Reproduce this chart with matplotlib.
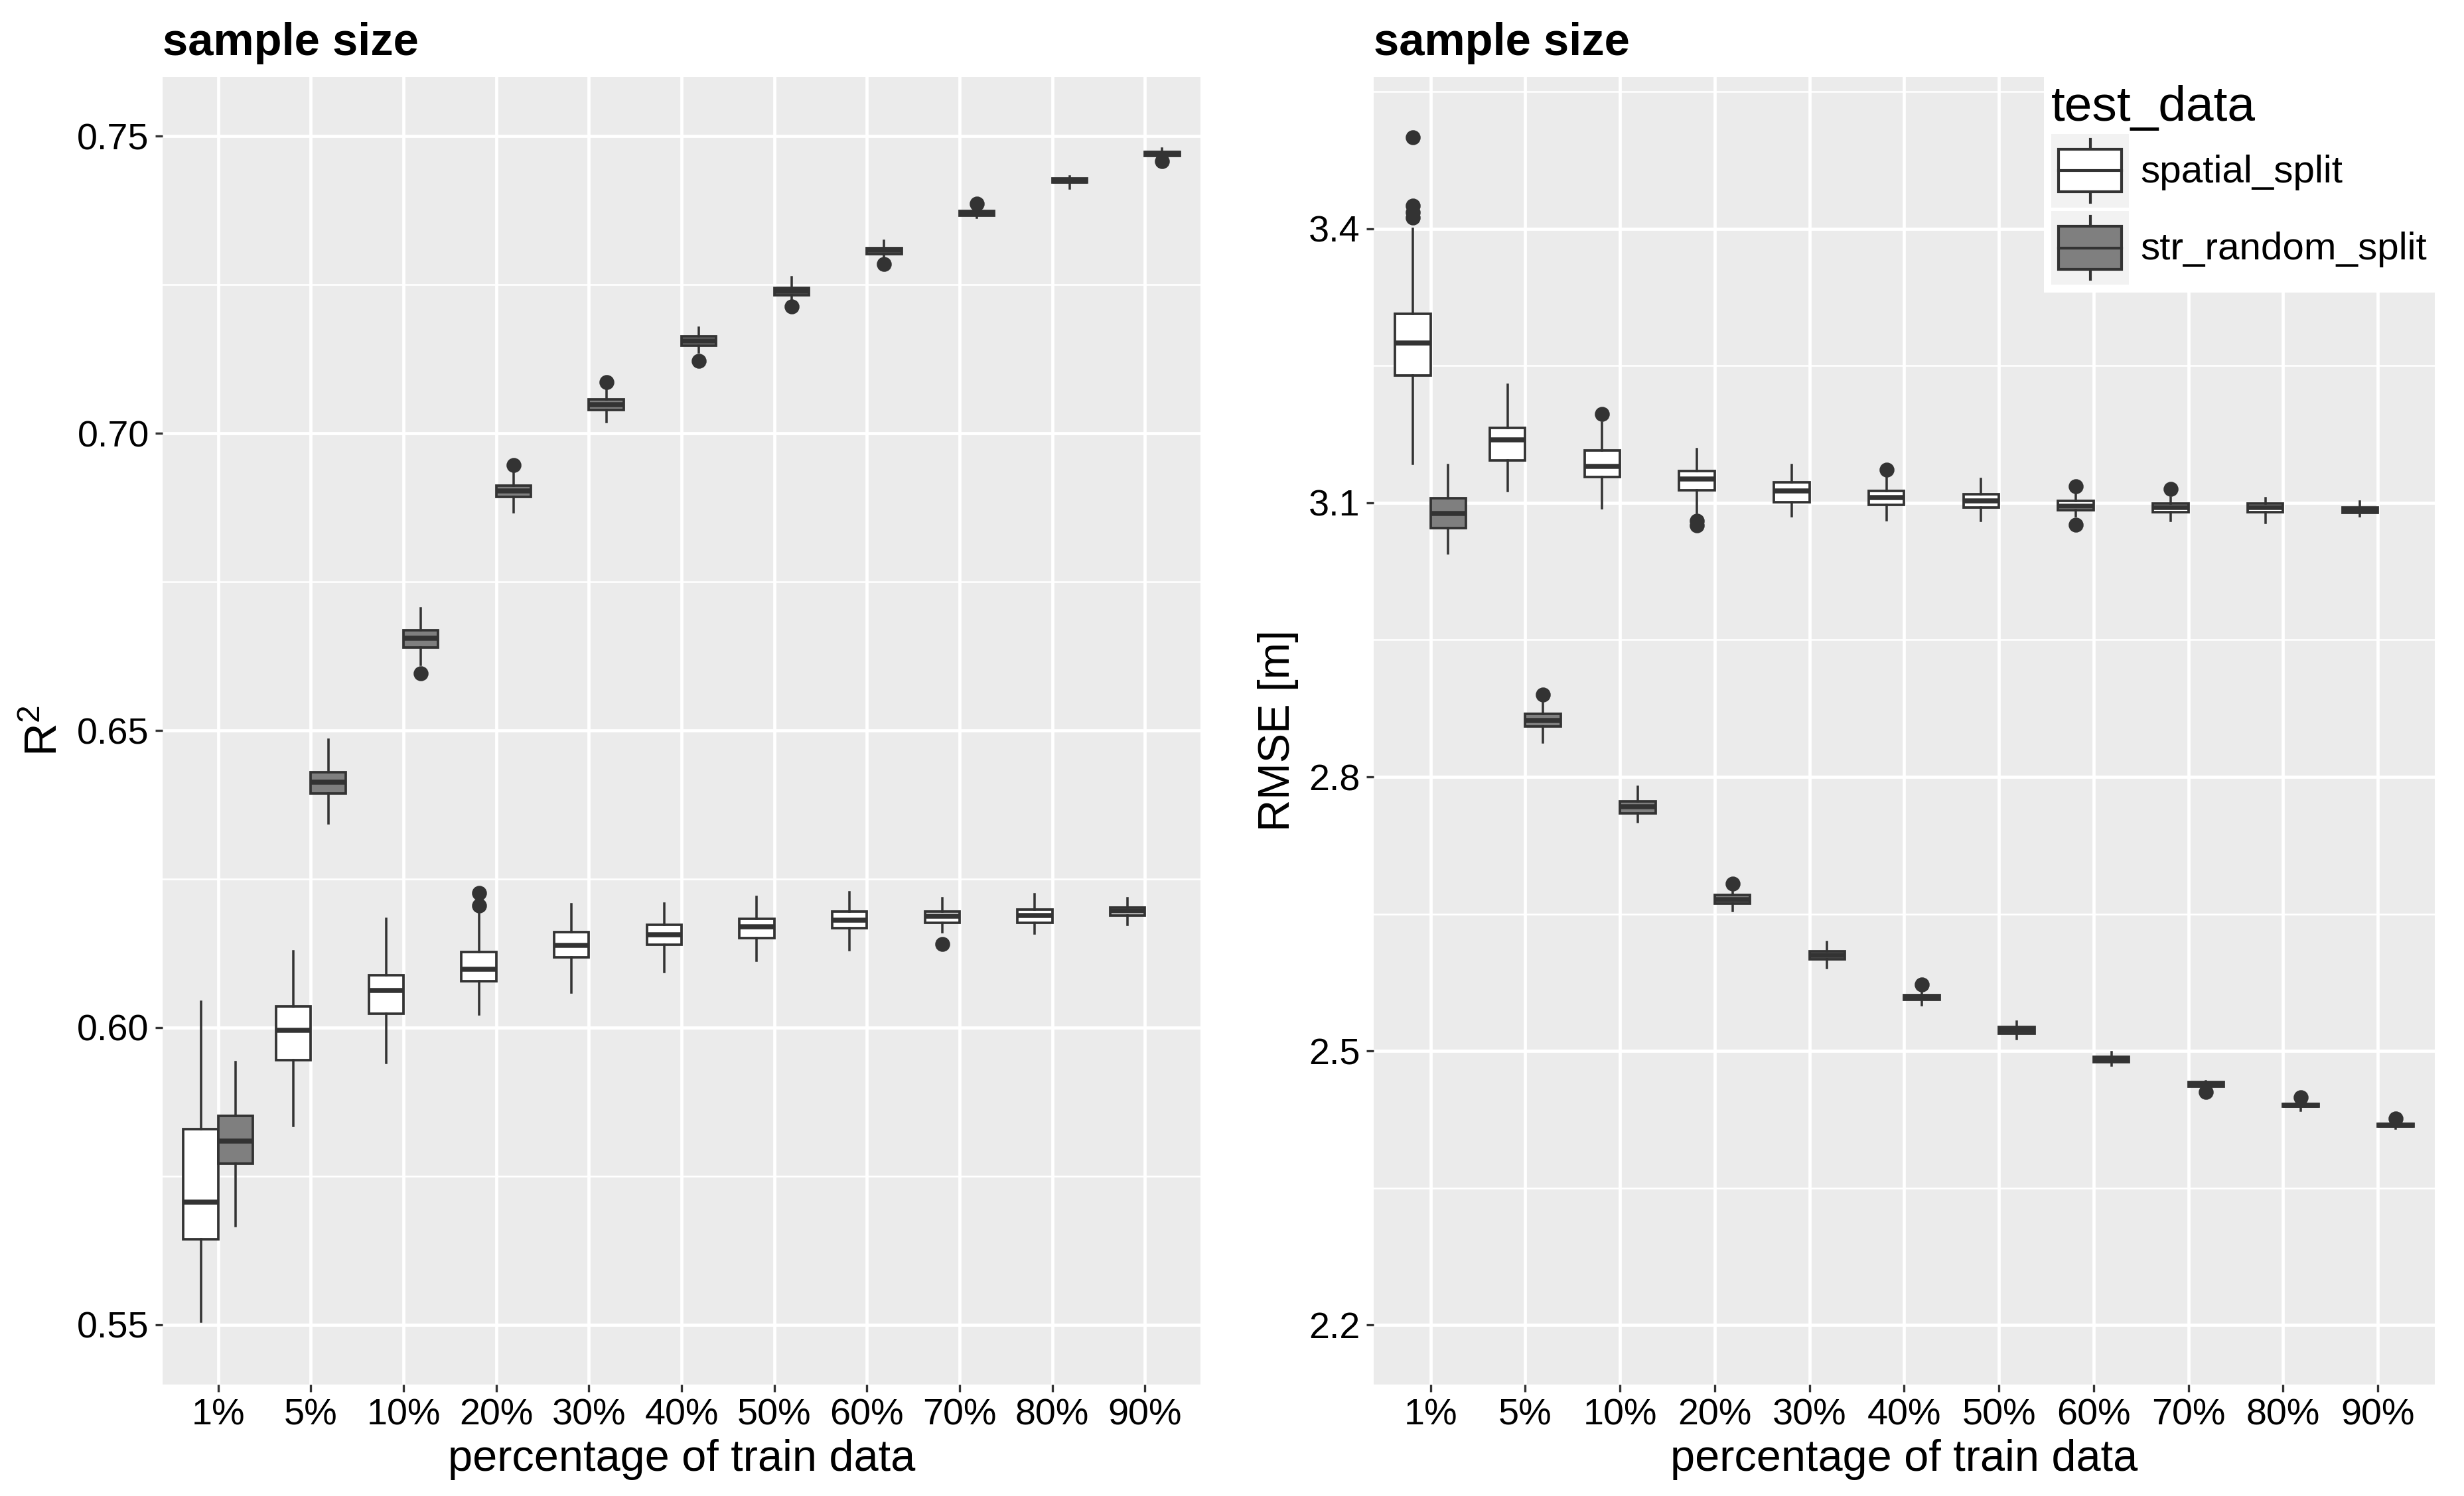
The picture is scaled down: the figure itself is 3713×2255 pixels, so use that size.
import numpy as np
import matplotlib
matplotlib.use("Agg")
import matplotlib.pyplot as plt
from matplotlib.patches import Rectangle, Patch
from matplotlib.lines import Line2D
from matplotlib.legend_handler import HandlerBase
from matplotlib.ticker import FixedLocator

plt.rcParams['font.family'] = ['Liberation Sans', 'DejaVu Sans']
plt.rcParams['mathtext.fontset'] = 'custom'
plt.rcParams['mathtext.rm'] = 'Liberation Sans'
plt.rcParams['mathtext.it'] = 'Liberation Sans:italic'

# ---------------- data ----------------
categories = ['1%', '5%', '10%', '20%', '30%', '40%', '50%', '60%', '70%', '80%', '90%']
groups = ['spatial_split', 'str_random_split']

# R^2, spatial split
r2_sp_whislo = [0.5505, 0.5834, 0.5941, 0.6022, 0.6059, 0.6093, 0.6112, 0.6130, 0.6160, 0.6158, 0.6173]
r2_sp_q1     = [0.5643, 0.5945, 0.6023, 0.6078, 0.6118, 0.6139, 0.6151, 0.6167, 0.6176, 0.6176, 0.6188]
r2_sp_med    = [0.5706, 0.5995, 0.6062, 0.6098, 0.6138, 0.6156, 0.6169, 0.6181, 0.6187, 0.6188, 0.6196]
r2_sp_q3     = [0.5829, 0.6036, 0.6088, 0.6127, 0.6161, 0.6173, 0.6183, 0.6195, 0.6195, 0.6199, 0.6202]
r2_sp_whishi = [0.6043, 0.6128, 0.6183, 0.6197, 0.6207, 0.6209, 0.6220, 0.6227, 0.6217, 0.6224, 0.6217]
r2_sp_out    = [[], [], [], [0.6205, 0.6226], [], [], [], [], [0.6141], [], []]

# R^2, stratified random split
r2_rs_whislo = [0.5666, 0.6344, 0.6611, 0.6867, 0.7019, 0.7137, 0.7224, 0.7297, 0.7363, 0.7412, 0.7463]
r2_rs_q1     = [0.5771, 0.6394, 0.6640, 0.6893, 0.7039, 0.7148, 0.7232, 0.7302, 0.7367, 0.7422, 0.7467]
r2_rs_med    = [0.5809, 0.6413, 0.6655, 0.6903, 0.7048, 0.7155, 0.7239, 0.7308, 0.7370, 0.7425, 0.7471]
r2_rs_q3     = [0.5851, 0.6430, 0.6669, 0.6912, 0.7057, 0.7163, 0.7245, 0.7312, 0.7374, 0.7429, 0.7474]
r2_rs_whishi = [0.5942, 0.6484, 0.6706, 0.6936, 0.7075, 0.7178, 0.7263, 0.7324, 0.7381, 0.7432, 0.7479]
r2_rs_out    = [[], [], [0.6596], [0.6947], [0.7086], [0.7122], [0.7214], [0.7285], [0.7387], [], [0.7458]]

# RMSE, spatial split
rm_sp_whislo = [3.143, 3.113, 3.094, 3.089, 3.085, 3.081, 3.080, 3.085, 3.080, 3.078, 3.085]
rm_sp_q1     = [3.239, 3.146, 3.128, 3.114, 3.1005, 3.098, 3.095, 3.092, 3.090, 3.090, 3.089]
rm_sp_med    = [3.275, 3.169, 3.140, 3.126, 3.113, 3.106, 3.102, 3.096, 3.095, 3.095, 3.092]
rm_sp_q3     = [3.307, 3.182, 3.157, 3.135, 3.122, 3.113, 3.109, 3.102, 3.099, 3.099, 3.095]
rm_sp_whishi = [3.400, 3.229, 3.188, 3.159, 3.141, 3.130, 3.126, 3.110, 3.106, 3.105, 3.101]
rm_sp_out    = [[3.500, 3.425, 3.418, 3.412], [], [3.197], [3.080, 3.075], [], [3.136], [],
                [3.118, 3.076], [3.115], [], []]

# RMSE, stratified random split
rm_rs_whislo = [3.045, 2.838, 2.751, 2.653, 2.591, 2.550, 2.513, 2.484, 2.459, 2.435, 2.4155]
rm_rs_q1     = [3.072, 2.855, 2.760, 2.661, 2.600, 2.556, 2.519, 2.488, 2.461, 2.439, 2.4177]
rm_rs_med    = [3.088, 2.862, 2.767, 2.666, 2.605, 2.559, 2.5225, 2.4915, 2.4635, 2.4407, 2.419]
rm_rs_q3     = [3.105, 2.869, 2.773, 2.671, 2.609, 2.5615, 2.526, 2.494, 2.466, 2.442, 2.4203]
rm_rs_whishi = [3.141, 2.882, 2.789, 2.675, 2.619, 2.565, 2.532, 2.499, 2.467, 2.445, 2.423]
rm_rs_out    = [[], [2.890], [], [2.683], [], [2.573], [], [], [2.455], [2.449], [2.426]]

r2_ticks = [0.55, 0.60, 0.65, 0.70, 0.75]
r2_minor = [0.575, 0.625, 0.675, 0.725]
rm_ticks = [2.2, 2.5, 2.8, 3.1, 3.4]
rm_minor = [2.35, 2.65, 2.95, 3.25, 3.55]

# ---------------- style ----------------
panel_bg = '#EBEBEB'
dark = '#333333'
fills = {'spatial_split': 'white', 'str_random_split': '#7F7F7F'}
box_w = 0.375


def make_stats(whislo, q1, med, q3, whishi, out):
    stats = []
    for i in range(len(med)):
        stats.append(dict(whislo=whislo[i], q1=q1[i], med=med[i], q3=q3[i],
                          whishi=whishi[i], fliers=out[i]))
    return stats


def draw_boxes(ax, stats, offset, fc):
    pos = np.arange(len(categories)) + offset
    ax.bxp(stats, positions=pos, widths=box_w, patch_artist=True,
           showcaps=False, manage_ticks=False,
           boxprops=dict(facecolor=fc, edgecolor=dark, linewidth=0.9),
           medianprops=dict(color=dark, linewidth=1.8, solid_capstyle='butt'),
           whiskerprops=dict(color=dark, linewidth=0.85),
           flierprops=dict(marker='o', markerfacecolor=dark, markeredgecolor=dark,
                           markersize=4.4, linestyle='none'))


def style_axes(ax, ticks, minor, fmt, ylim):
    ax.set_facecolor(panel_bg)
    for s in ax.spines.values():
        s.set_visible(False)
    ax.set_xlim(-0.6, len(categories) - 0.4)
    ax.set_ylim(*ylim)
    ax.set_xticks(np.arange(len(categories)))
    ax.set_xticklabels(categories)
    ax.set_yticks(ticks)
    ax.set_yticklabels([fmt.format(t) for t in ticks])
    ax.yaxis.set_minor_locator(FixedLocator(minor))
    ax.grid(True, which='major', color='white', linewidth=1.15)
    ax.grid(True, which='minor', axis='y', color='white', linewidth=0.6)
    ax.set_axisbelow(True)
    ax.tick_params(which='major', length=2.6, width=0.8, color=dark,
                   labelsize=13.4, labelcolor='black', pad=2.3)
    ax.tick_params(which='minor', length=0)
    ax.set_xlabel('percentage of train data', fontsize=16, va='baseline')
    ax.xaxis.set_label_coords(0.5, -0.066)


class BoxKeyHandler(HandlerBase):
    # draws a small boxplot glyph on a grey key, like the ggplot legend
    def create_artists(self, legend, orig_handle, xdescent, ydescent,
                       width, height, fontsize, trans):
        x0, y0 = -xdescent, -ydescent
        bg = Rectangle((x0, y0), width, height, facecolor='#F2F2F2',
                       edgecolor='none', transform=trans)
        bw = width * 0.82
        bh = height * 0.58
        bx = x0 + (width - bw) / 2
        by = y0 + (height - bh) / 2
        cx = x0 + width / 2
        box = Rectangle((bx, by), bw, bh, facecolor=orig_handle.get_facecolor(),
                        edgecolor=dark, linewidth=1.0, transform=trans)
        med = Line2D([bx, bx + bw], [y0 + height / 2] * 2, color=dark,
                     linewidth=1.0, transform=trans)
        w1 = Line2D([cx, cx], [y0 + height * 0.07, by], color=dark,
                    linewidth=1.0, transform=trans)
        w2 = Line2D([cx, cx], [by + bh, y0 + height * 0.93], color=dark,
                    linewidth=1.0, transform=trans)
        return [bg, w1, w2, box, med]


fig = plt.figure(figsize=(3713 / 300, 2255 / 300), dpi=300)
ax1 = fig.add_axes([0.0660, 0.0745, 0.4212, 0.8741])
ax2 = fig.add_axes([0.5575, 0.0745, 0.4306, 0.8741])

# left: R^2
draw_boxes(ax1, make_stats(r2_sp_whislo, r2_sp_q1, r2_sp_med, r2_sp_q3, r2_sp_whishi, r2_sp_out),
           -box_w / 2, fills['spatial_split'])
draw_boxes(ax1, make_stats(r2_rs_whislo, r2_rs_q1, r2_rs_med, r2_rs_q3, r2_rs_whishi, r2_rs_out),
           box_w / 2, fills['str_random_split'])
style_axes(ax1, r2_ticks, r2_minor, '{:.2f}', (0.5399, 0.7600))
ax1.set_ylabel(r'$\mathrm{R}^2$', fontsize=16.5, va='center')
ax1.yaxis.set_label_coords(-0.113, 0.5)

# right: RMSE
draw_boxes(ax2, make_stats(rm_sp_whislo, rm_sp_q1, rm_sp_med, rm_sp_q3, rm_sp_whishi, rm_sp_out),
           -box_w / 2, fills['spatial_split'])
draw_boxes(ax2, make_stats(rm_rs_whislo, rm_rs_q1, rm_rs_med, rm_rs_q3, rm_rs_whishi, rm_rs_out),
           box_w / 2, fills['str_random_split'])
style_axes(ax2, rm_ticks, rm_minor, '{:.1f}', (2.135, 3.566))
ax2.set_ylabel('RMSE [m]', fontsize=16, va='center')
ax2.yaxis.set_label_coords(-0.090, 0.5)

# titles
fig.text(0.0660, 0.9632, 'sample size', fontsize=16.5, fontweight='bold', va='baseline')
fig.text(0.5575, 0.9632, 'sample size', fontsize=16.5, fontweight='bold', va='baseline')

# legend
handles = [Patch(facecolor=fills[g]) for g in groups]
leg = ax2.legend(handles, groups, title='test_data', loc='upper right',
                 bbox_to_anchor=(1.0, 1.0), borderaxespad=0, fontsize=14,
                 title_fontsize=18, alignment='left',
                 handler_map={Patch: BoxKeyHandler()},
                 handlelength=2.0, handleheight=2.55, handletextpad=0.3,
                 labelspacing=0.09, borderpad=0.2, fancybox=False,
                 framealpha=1.0, edgecolor='none', facecolor='white')

fig.savefig('out.png', dpi=300)
